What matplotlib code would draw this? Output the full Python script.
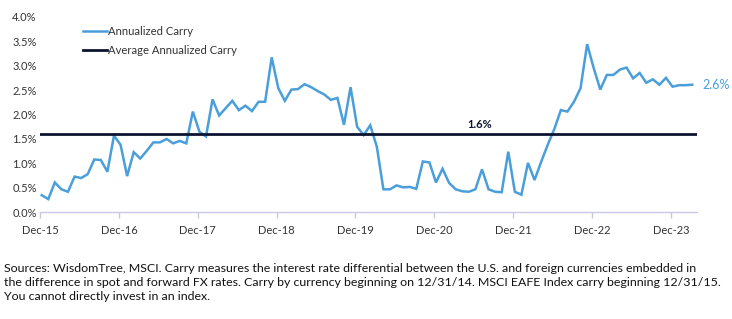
import matplotlib
matplotlib.use("Agg")
import matplotlib.pyplot as plt

# monthly annualized carry (%), Dec-15 .. Mar-24
carry = [0.35, 0.27, 0.61, 0.47, 0.42, 0.73, 0.70, 0.78, 1.08, 1.07, 0.83, 1.57,
         1.38, 0.74, 1.23, 1.10, 1.26, 1.43, 1.43, 1.50, 1.41, 1.46, 1.41, 2.06,
         1.65, 1.55, 2.31, 1.98, 2.13, 2.28, 2.09, 2.18, 2.07, 2.26, 2.26, 3.17,
         2.54, 2.28, 2.51, 2.52, 2.62, 2.56, 2.48, 2.41, 2.30, 2.34, 1.79, 2.56,
         1.75, 1.58, 1.78, 1.34, 0.47, 0.47, 0.55, 0.51, 0.52, 0.48, 1.04, 1.02,
         0.61, 0.89, 0.60, 0.47, 0.43, 0.42, 0.47, 0.88, 0.47, 0.42, 0.41, 1.24,
         0.42, 0.36, 1.01, 0.66, 1.03, 1.38, 1.70, 2.09, 2.06, 2.26, 2.54, 3.44,
         2.95, 2.51, 2.81, 2.81, 2.92, 2.96, 2.74, 2.85, 2.65, 2.72, 2.61, 2.75,
         2.57, 2.60, 2.60, 2.61]
avg_carry = 1.6
year_labels = ["Dec-15", "Dec-16", "Dec-17", "Dec-18", "Dec-19",
               "Dec-20", "Dec-21", "Dec-22", "Dec-23"]
y_ticks = [0, 0.5, 1.0, 1.5, 2.0, 2.5, 3.0, 3.5, 4.0]

footnote = ("Sources: WisdomTree, MSCI. Carry measures the interest rate differential between the U.S. and foreign currencies embedded in\n"
            "the difference in spot and forward FX rates. Carry by currency beginning on 12/31/14. MSCI EAFE Index carry beginning 12/31/15.\n"
            "You cannot directly invest in an index.")

blue = "#4A9FDA"
navy = "#0D1431"
axis_col = "#C8C8E6"

plt.rcParams["font.family"] = ["Lato", "DejaVu Sans"]

fig = plt.figure(figsize=(7.32, 3.19), dpi=100)
ax = fig.add_axes([0.054, 0.3345, 0.898, 0.613])

x = list(range(len(carry)))
ax.plot(x, carry, color=blue, lw=1.8, label="Annualized Carry", solid_joinstyle="miter")
ax.plot([x[0] - 0.25, x[-1] + 0.5], [avg_carry, avg_carry], color=navy, lw=2.0,
        label="Average Annualized Carry")

ax.set_xlim(-0.33, 99.7)
ax.set_ylim(0, 4.0)

ax.set_xticks([12 * i - 0.25 for i in range(len(year_labels))])
ax.set_xticklabels(year_labels)
ax.set_yticks(y_ticks)
ax.set_yticklabels(["%.1f%%" % v for v in y_ticks])

for s in ["top", "right", "left"]:
    ax.spines[s].set_visible(False)
ax.spines["bottom"].set_color(axis_col)
ax.spines["bottom"].set_linewidth(1.0)
ax.tick_params(axis="x", colors=axis_col, length=4, width=1.0, labelcolor="#333333",
               labelsize=8, pad=5)
ax.tick_params(axis="y", length=0, labelcolor="#333333", labelsize=8, pad=2)

ax.text(66.7, 1.69, "%.1f%%" % avg_carry, fontsize=8, fontweight="bold", color=navy,
        ha="center", va="bottom")
ax.text(100.6, carry[-1], "2.6%", fontsize=9, color=blue,
        ha="left", va="center", clip_on=False)

ax.legend(loc="upper left", bbox_to_anchor=(0.066, 0.955), frameon=False, fontsize=8.1,
          handlelength=2.1, handletextpad=0.15, labelspacing=0.75, borderpad=0,
          borderaxespad=0, labelcolor="#333333")

fig.text(0.006, 1 - 263 / 319, footnote, fontsize=8.9, color="#111111", va="top",
         ha="left", linespacing=1.36)

fig.savefig("out.png", dpi=100)
